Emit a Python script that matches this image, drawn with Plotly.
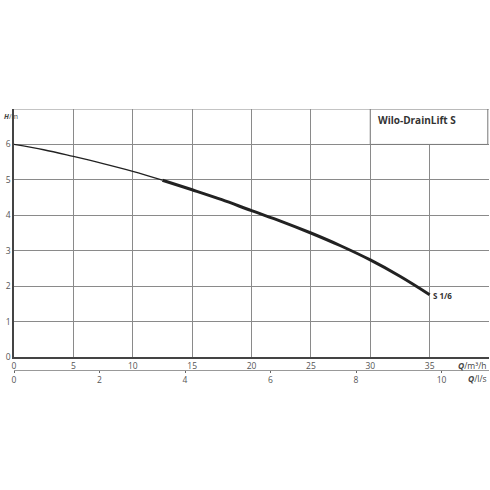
import plotly.graph_objects as go

# Data
q_m3h = [0, 2.5, 5, 7.5, 10, 12.5, 15, 17.5, 20, 22.5, 25, 27.5, 30, 32.5, 35]
h_m = [6.0, 5.85, 5.66, 5.46, 5.24, 4.99, 4.72, 4.44, 4.13, 3.83, 3.50, 3.14, 2.74, 2.28, 1.76]
split_q = 12.5
x_ticks = [0, 5, 10, 15, 20, 25, 30, 35]
y_ticks = [0, 1, 2, 3, 4, 5, 6]
ls_ticks = [0, 2, 4, 6, 8, 10]
curve_name = "S 1/6"
title_text = "Wilo-DrainLift S"

thin_q = [q for q in q_m3h if q <= split_q]
thin_h = [h for q, h in zip(q_m3h, h_m) if q <= split_q]
thick_q = [q for q in q_m3h if q >= split_q]
thick_h = [h for q, h in zip(q_m3h, h_m) if q >= split_q]

fig = go.Figure()
fig.add_trace(go.Scatter(x=thin_q, y=thin_h, mode="lines", line=dict(color="#222", width=1.3, shape="spline"),
                         hoverinfo="skip", showlegend=False))
fig.add_trace(go.Scatter(x=thick_q, y=thick_h, mode="lines", line=dict(color="#222", width=3, shape="spline"),
                         hoverinfo="skip", showlegend=False))
# invisible trace to activate the secondary l/s axis
fig.add_trace(go.Scatter(x=[0, 40 / 3.6], y=[0, 0], xaxis="x2", yaxis="y", mode="markers",
                         marker=dict(opacity=0), hoverinfo="skip", showlegend=False))

font = dict(family="Open Sans", size=8.5, color="#555")

W, H = 490, 490
top, bottom = 109, 120
plot_h = H - top - bottom
gap = 13

fig.update_layout(
    width=W, height=H,
    margin=dict(l=14, r=1, t=top, b=bottom, autoexpand=False),
    paper_bgcolor="white", plot_bgcolor="white",
    font=font,
    xaxis=dict(range=[0, 40], tickvals=x_ticks, showgrid=True, gridcolor="#8a8a8a", gridwidth=1,
               zeroline=False, showline=True, linecolor="#444", linewidth=1.5, mirror=False,
               ticks="", tickfont=font, anchor="y", automargin=False),
    yaxis=dict(range=[0, 7], tickvals=y_ticks, showgrid=True, gridcolor="#8a8a8a", gridwidth=1,
               zeroline=False, showline=True, linecolor="#444", linewidth=1.5,
               ticks="", tickfont=font, domain=[gap / plot_h, 1], automargin=False),
    xaxis2=dict(range=[0, 40 / 3.6], tickvals=ls_ticks, overlaying="x", anchor="free", position=0,
                side="bottom", showgrid=False, zeroline=False, showline=True, linecolor="#999",
                linewidth=1, ticks="outside", ticklen=2, tickcolor="#666", tickfont=font, automargin=False),
    shapes=[
        # top border
        dict(type="line", xref="paper", yref="y", x0=0, x1=1, y0=7, y1=7,
             line=dict(color="#8a8a8a", width=1)),
        # title box
        dict(type="rect", xref="x", yref="y", x0=30, x1=39.9, y0=6, y1=7,
             fillcolor="white", line=dict(color="#777", width=1), layer="above"),
    ],
    annotations=[
        dict(x=30.45, y=6.93, xref="x", yref="y", text="<b>" + title_text + "</b>", showarrow=False,
             xanchor="left", yanchor="top", font=dict(family="Open Sans", size=10, color="#333")),
        dict(x=q_m3h[-1] + 0.15, y=h_m[-1] - 0.02, xref="x", yref="y", text="<b>" + curve_name + "</b>",
             showarrow=False, xanchor="left", yanchor="middle",
             font=dict(family="Open Sans", size=8, color="#333")),
        dict(x=0, y=7, xref="paper", yref="y", xshift=-12, yshift=-1, text="<b><i>H</i></b>/m", showarrow=False,
             xanchor="left", yanchor="top", font=dict(family="Open Sans", size=7, color="#444")),
        dict(x=1, y=gap / plot_h, xref="paper", yref="paper", text="<b><i>Q</i></b>/m³/h", showarrow=False,
             xanchor="right", yanchor="top", yshift=-1, font=dict(family="Open Sans", size=8.5, color="#444")),
        dict(x=1, y=0, xref="paper", yref="paper", text="<b><i>Q</i></b>/l/s", showarrow=False,
             xanchor="right", yanchor="top", yshift=-1, font=dict(family="Open Sans", size=8.5, color="#444")),
    ],
)

fig.write_html("out.html", config={"displayModeBar": False},
               post_script="document.body.style.margin='0';document.body.style.padding='0';")
